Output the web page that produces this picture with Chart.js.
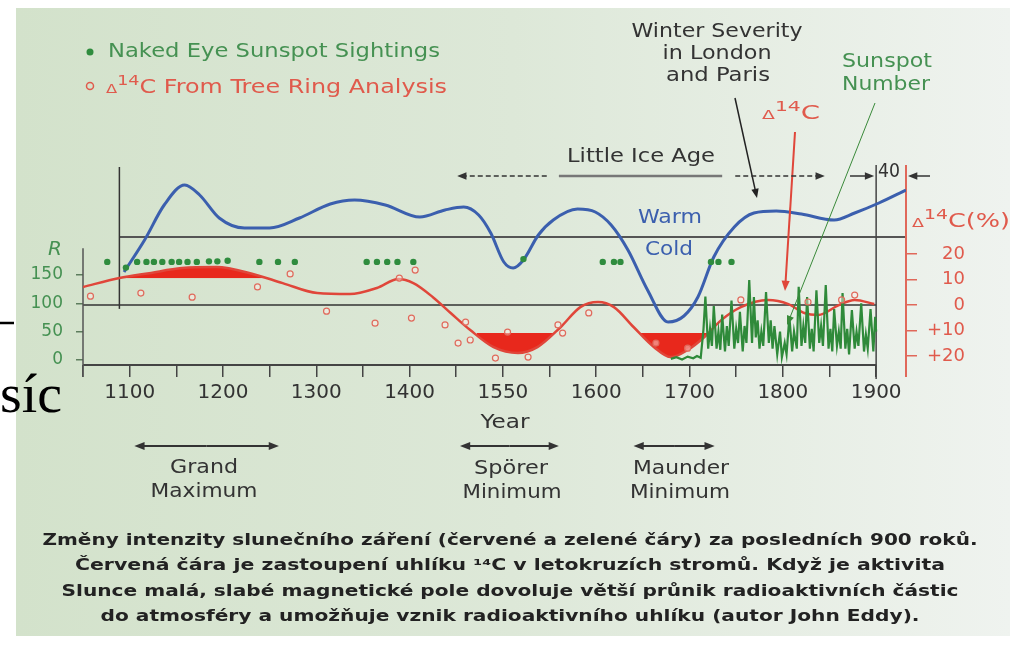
<!DOCTYPE html>
<html>
<head>
<meta charset="utf-8">
<script src="https://cdn.jsdelivr.net/npm/chart.js@4.4.0/dist/chart.umd.min.js"></script>
<style>
html, body { margin: 0; padding: 0; background: #fff; overflow: hidden; }
canvas { display: block; }
</style>
</head>
<body>
<canvas id="chart" width="1019" height="646"></canvas>
<script>
// --- data ---
// winter severity (arbitrary index, 0 = warm/cold divider)
const blueYears = [1094,1116,1137,1159,1175,1196,1223,1250,1282,1315,1341,1374,1411,1438,1458,1474,1487,1501,1511,1522,1538,1554,1580,1599,1616,1634,1655,1677,1694,1709,1726,1748,1769,1793,1820,1855,1877,1903,1932];
const blueVals  = [-3.5,-0.3,3.2,5.2,4.2,1.9,0.9,0.9,1.9,3.3,3.7,3.2,2,2.7,3,2.2,0.4,-2.5,-3.1,-2.3,0.2,1.7,2.8,2.5,1.2,-1.3,-5.3,-8.5,-7.9,-6,-2,1,2.4,2.6,2.3,1.7,2.4,3.4,4.7];

// smoothed delta 14C (per mil, positive plotted downward)
const c14Years = [1050,1089,1121,1156,1193,1232,1264,1301,1336,1365,1388,1404,1425,1444,1465,1490,1516,1537,1562,1583,1602,1619,1640,1662,1680,1698,1716,1734,1755,1784,1806,1823,1838,1860,1877,1898];
const c14Vals  = [-7.1,-10.6,-12.5,-14.5,-14.9,-12.2,-8.6,-4.7,-4.3,-6.7,-10.2,-8.6,-3.1,3.1,9.8,16.5,18.8,16.5,8.6,0.8,-1.2,0.8,8.6,16.5,20.4,17.6,12.5,5.9,0.8,-2,-0.4,3.1,3.9,0,-2,-0.4];

// tree ring measurements
const c14PtYears = [1058,1112,1167,1237,1272,1311,1363,1389,1402,1406,1438,1452,1460,1465,1492,1505,1527,1559,1564,1592,1664,1698,1755,1827,1863,1877];
const c14PtVals  = [-3.5,-4.7,-3.1,-7.1,-12.2,2.4,7.1,-10.6,5.1,-13.7,7.8,14.9,6.7,13.7,20.8,10.6,20.4,7.8,11,3.1,14.9,16.9,-2,-1.2,-2,-3.9];

// naked eye sunspot sightings (drawn as a row at R ~ 173)
const sightYears = [1076,1096,1108,1118,1126,1135,1145,1153,1162,1172,1185,1194,1205,1239,1259,1277,1354,1365,1376,1387,1404,1522,1607,1619,1626,1723,1731,1745];
const sightR     = [173,163,173,173,173,173,173,173,173,173,174,174,175,173,173,173,173,173,173,173,173,178,173,173,173,173,173,173];

// sunspot number R
const sunYears = [1680,1686,1692,1698,1704,1708,1712,1715,1717,1720,1722,1724,1726,1729,1731,1733,1735,1738,1740,1742,1745,1748,1750,1752,1754,1757,1759,1761,1764,1767,1769,1771,1773,1775,1777,1779,1782,1785,1787,1789,1791,1794,1797,1799,1802,1804,1807,1810,1812,1815,1817,1820,1822,1824,1826,1829,1831,1833,1836,1839,1841,1843,1846,1849,1851,1853,1855,1858,1860,1862,1864,1867,1869,1871,1874,1877,1879,1881,1884,1887,1889,1891,1894,1897,1899,1900];
const sunR     = [2,5,1,6,3,7,4,55,112,20,55,25,95,20,50,18,80,15,60,25,105,20,55,30,85,15,60,30,141,30,111,40,70,20,50,25,120,30,70,20,60,10,50,5,30,10,76,15,50,20,129,25,60,30,111,20,55,15,123,30,60,25,132,20,55,15,90,25,50,20,118,20,55,10,88,20,50,25,100,15,45,20,90,15,76,50];

const tickYears  = [1100,1200,1300,1400,1500,1600,1700,1800,1900];
const tickLabels = ['1100','1200','1300','1400','1550','1600','1700','1800','1900'];
const rTicks = [0,50,100,150];
const c14Ticks = [-20,-10,0,10,20];
const c14TickLabels = ['20','10','0','+10','+20'];

// shaded periods of the 14C curve
const grandMaxLevel = -10.5;
const grandMaxSpan = [[1086, 1249]];
const minimumLevel = 11;
const minimaSpans = [[1472, 1554], [1645, 1724]];

const captionLines = [
    'Změny intenzity slunečního záření (červené a zelené čáry) za posledních 900 roků.',
    'Červená čára je zastoupení uhlíku ¹⁴C v letokruzích stromů. Když je aktivita',
    'Slunce malá, slabé magnetické pole dovoluje větší průnik radioaktivních částic',
    'do atmosféry a umožňuje vznik radioaktivního uhlíku (autor John Eddy).'
];

const FONT = '"DejaVu Sans", Verdana, sans-serif';
const BLUE = '#3b5fae', RED = '#e0463a', REDTXT = '#e05a4c', GREEN = '#2f8a3a', GREENTXT = '#459152', DARK = '#333';
const FILLRED = '#e8281c', NONE = 'rgba(0,0,0,0)';
const GM_INDEX = 6, MIN_INDEX = 5;

const pts = (xs, ys) => xs.map((x, i) => ({ x: x, y: ys[i] }));

// --- drawing helpers ---
function txt(ctx, s, x, y, o) {
    ctx.save();
    ctx.font = (o.bold ? 'bold ' : '') + (o.italic ? 'italic ' : '') + o.size + 'px ' + (o.family || FONT);
    ctx.fillStyle = o.color || DARK;
    ctx.textBaseline = 'middle';
    ctx.textAlign = 'left';
    const w = ctx.measureText(s).width;
    const k = o.w ? o.w / w : 1;
    const x0 = o.align === 'center' ? x - w * k / 2 : (o.align === 'right' ? x - w * k : x);
    ctx.translate(x0, y);
    ctx.scale(k, 1);
    ctx.fillText(s, 0, 0);
    ctx.restore();
}

function rich(ctx, parts, x, y, size, color, w) {
    ctx.save();
    ctx.fillStyle = color;
    ctx.textBaseline = 'alphabetic';
    const fnt = p => Math.round(size * (p.k || 1)) + 'px ' + FONT;
    let tot = 0;
    parts.forEach(p => { ctx.font = fnt(p); tot += ctx.measureText(p.t).width; });
    const k = w ? w / tot : 1;
    ctx.translate(x, y + size * 0.36);
    ctx.scale(k, 1);
    let cx = 0;
    parts.forEach(p => {
        ctx.font = fnt(p);
        ctx.fillText(p.t, cx, p.dy ? -size * p.dy : 0);
        cx += ctx.measureText(p.t).width;
    });
    ctx.restore();
}
const delta14 = rest => [{ t: 'Δ', k: 0.68 }, { t: '14', k: 0.72, dy: 0.42 }, { t: rest }];

function arrow(ctx, x1, y1, x2, y2, color, lw, head, dash) {
    ctx.save();
    ctx.strokeStyle = color; ctx.fillStyle = color; ctx.lineWidth = lw;
    const a = Math.atan2(y2 - y1, x2 - x1);
    if (dash) ctx.setLineDash(dash);
    ctx.beginPath();
    ctx.moveTo(x1, y1);
    ctx.lineTo(x2 - Math.cos(a) * head * 0.7, y2 - Math.sin(a) * head * 0.7);
    ctx.stroke();
    ctx.setLineDash([]);
    if (head) {
        ctx.beginPath();
        ctx.moveTo(x2, y2);
        ctx.lineTo(x2 - head * Math.cos(a - 0.38), y2 - head * Math.sin(a - 0.38));
        ctx.lineTo(x2 - head * Math.cos(a + 0.38), y2 - head * Math.sin(a + 0.38));
        ctx.closePath();
        ctx.fill();
    }
    ctx.restore();
}

function line(ctx, x1, y1, x2, y2, color, lw, dash) {
    ctx.save();
    ctx.strokeStyle = color; ctx.lineWidth = lw;
    if (dash) ctx.setLineDash(dash);
    ctx.beginPath(); ctx.moveTo(x1, y1); ctx.lineTo(x2, y2); ctx.stroke();
    ctx.restore();
}

// clip the next dataset draw (fill) to some year spans
function clipTo(chart, spans) {
    const ctx = chart.ctx, a = chart.chartArea, x = chart.scales.x;
    ctx.save();
    ctx.beginPath();
    spans.forEach(s => {
        const x0 = x.getPixelForValue(s[0]), x1 = x.getPixelForValue(s[1]);
        ctx.rect(x0, a.top, x1 - x0, a.bottom - a.top);
    });
    ctx.clip();
}

// --- plugin: background, frame lines, annotations ---
const deco = {
    id: 'deco',
    beforeDraw(chart) {
        const ctx = chart.ctx;
        ctx.save();
        ctx.fillStyle = '#fff';
        ctx.fillRect(0, 0, chart.width, chart.height);
        const g = ctx.createLinearGradient(16, 0, 1010, 0);
        g.addColorStop(0, '#d3e2cb');
        g.addColorStop(0.5, '#dde8d8');
        g.addColorStop(1, '#eff3ef');
        ctx.fillStyle = g;
        ctx.fillRect(16, 8, 994, 628);
        ctx.restore();
    },
    beforeDatasetsDraw(chart) {
        const ctx = chart.ctx, s = chart.scales, a = chart.chartArea;
        const X = v => s.x.getPixelForValue(v);
        // warm / cold divider
        line(ctx, X(1089), s.yb.getPixelForValue(0), a.right, s.yb.getPixelForValue(0), '#555', 2);
        // R = 100 / delta14C = 0 line
        line(ctx, a.left, s.yc.getPixelForValue(0), X(1900), s.yc.getPixelForValue(0), '#333', 1.5);
        // left frame of the upper panel
        line(ctx, X(1089), s.yb.getPixelForValue(7), X(1089), s.yc.getPixelForValue(1.5), '#333', 1.5);
        // 1900 vertical
        line(ctx, X(1900), s.yb.getPixelForValue(7.2), X(1900), a.bottom + 14, '#444', 1.5);
        // x axis line
        line(ctx, X(1050), a.bottom, X(1900), a.bottom, '#444', 2);
        // R axis line
        line(ctx, a.left, s.yr.getPixelForValue(197), a.left, a.bottom + 12, '#555', 1.5);
        // delta14C axis line
        line(ctx, a.right, s.yb.getPixelForValue(7.2), a.right, a.bottom + 12, '#e0685a', 2);
        // first dataset drawn is the grand maximum fill
        clipTo(chart, grandMaxSpan);
    },
    afterDatasetDraw(chart, args) {
        if (args.index === GM_INDEX) {
            chart.ctx.restore();
            clipTo(chart, minimaSpans);
        } else if (args.index === MIN_INDEX) {
            chart.ctx.restore();
        }
    },
    afterDraw(chart) {
        const ctx = chart.ctx, s = chart.scales, a = chart.chartArea;
        const X = v => s.x.getPixelForValue(v);

        // legend
        ctx.save();
        ctx.fillStyle = '#2f8c3e';
        ctx.beginPath(); ctx.arc(90, 52, 3.5, 0, Math.PI * 2); ctx.fill();
        ctx.strokeStyle = REDTXT; ctx.lineWidth = 1.5;
        ctx.beginPath(); ctx.arc(90, 86, 3.5, 0, Math.PI * 2); ctx.stroke();
        ctx.restore();
        txt(ctx, 'Naked Eye Sunspot Sightings', 108, 52, { size: 19, color: GREENTXT, w: 332 });
        rich(ctx, delta14('C From Tree Ring Analysis'), 106, 86, 19, REDTXT, 341);

        // top right notes
        txt(ctx, 'Winter Severity', 717, 32, { size: 19, align: 'center', w: 171 });
        txt(ctx, 'in London', 717, 54, { size: 19, align: 'center', w: 109 });
        txt(ctx, 'and Paris', 718, 76, { size: 19, align: 'center', w: 104 });
        txt(ctx, 'Sunspot', 842, 62, { size: 19, color: GREENTXT, w: 90 });
        txt(ctx, 'Number', 842, 85, { size: 19, color: GREENTXT, w: 88 });
        rich(ctx, delta14('C'), 762, 112, 19, REDTXT, 58);

        arrow(ctx, 735, 98, 757, 198, '#222', 1.5, 10);
        arrow(ctx, 795, 132, 785, 291, RED, 2, 11);
        arrow(ctx, 875, 103, 787, 325, '#3a8a3a', 1, 10);

        // Little Ice Age
        txt(ctx, 'Little Ice Age', 641, 157, { size: 19, align: 'center', w: 148 });
        const yl = 176;
        arrow(ctx, X(1547), yl, X(1451), yl, '#333', 1.5, 10, [5, 3]);
        line(ctx, X(1560), yl, X(1735), yl, '#777', 2.5);
        arrow(ctx, X(1749), yl, X(1845), yl, '#333', 1.5, 10, [5, 3]);
        arrow(ctx, X(1872), yl, X(1900) - 2, yl, '#333', 1.5, 10);
        txt(ctx, '40', 889, 172, { size: 19, align: 'center', w: 22 });
        arrow(ctx, a.right + 24, yl, a.right + 2, yl, '#333', 1.5, 10);

        // warm / cold
        txt(ctx, 'Warm', 670, 218, { size: 20, color: BLUE, align: 'center', w: 64 });
        txt(ctx, 'Cold', 669, 250, { size: 20, color: BLUE, align: 'center', w: 48 });

        // axis titles
        txt(ctx, 'R', 55, 250, { size: 20, italic: true, color: GREENTXT, align: 'center' });
        rich(ctx, delta14('C(%)'), 912, 220, 19, REDTXT, 98);
        txt(ctx, 'Year', 505, 423, { size: 20, align: 'center', w: 49 });

        // named periods
        const ya = 446;
        [[1105, 1260], [1454, 1560], [1640, 1727]].forEach(r => {
            const mid = (X(r[0]) + X(r[1])) / 2;
            arrow(ctx, mid, ya, X(r[0]), ya, '#333', 2, 11);
            arrow(ctx, mid, ya, X(r[1]), ya, '#333', 2, 11);
        });
        txt(ctx, 'Grand', 204, 468, { size: 19, align: 'center', w: 68 });
        txt(ctx, 'Maximum', 204, 492, { size: 19, align: 'center', w: 107 });
        txt(ctx, 'Spörer', 511, 469, { size: 19, align: 'center', w: 74 });
        txt(ctx, 'Minimum', 512, 493, { size: 19, align: 'center', w: 99 });
        txt(ctx, 'Maunder', 681, 469, { size: 19, align: 'center', w: 96 });
        txt(ctx, 'Minimum', 680, 493, { size: 19, align: 'center', w: 100 });

        // caption
        const capW = [935, 870, 897, 819];
        const capY = [541, 566, 592, 617];
        captionLines.forEach((c, i) => txt(ctx, c, 510, capY[i], { size: 15, bold: true, color: '#222', align: 'center', w: capW[i] }));

        // leftover slide fragments at the left edge
        line(ctx, 0, 323, 14, 323, '#000', 2.5);
        txt(ctx, 'síc', 0, 398, { size: 54, family: '"Liberation Serif", "DejaVu Serif", serif', color: '#000', w: 62 });
    }
};

new Chart(document.getElementById('chart'), {
    type: 'line',
    data: {
        datasets: [
            {
                label: 'Naked eye sunspot sightings',
                data: pts(sightYears, sightR),
                yAxisID: 'yr', showLine: false,
                pointRadius: 3.2, pointBackgroundColor: '#2f8c3e', pointBorderWidth: 0,
                order: 0
            },
            {
                label: 'Delta 14C tree rings',
                data: pts(c14PtYears, c14PtVals),
                yAxisID: 'yc', showLine: false,
                pointRadius: 3, pointBorderColor: '#e06a5c', pointBackgroundColor: 'rgba(255,240,235,0.45)', pointBorderWidth: 1.2,
                order: 1
            },
            {
                label: 'Winter severity',
                data: pts(blueYears, blueVals),
                yAxisID: 'yb',
                borderColor: BLUE, borderWidth: 3, pointRadius: 0,
                cubicInterpolationMode: 'monotone', fill: false,
                order: 2
            },
            {
                label: 'Sunspot number',
                data: pts(sunYears, sunR),
                yAxisID: 'yr',
                borderColor: GREEN, borderWidth: 2.2, pointRadius: 0, tension: 0, fill: false,
                order: 3
            },
            {
                label: 'Delta 14C',
                data: pts(c14Years, c14Vals),
                yAxisID: 'yc',
                borderColor: RED, borderWidth: 2.5, pointRadius: 0,
                cubicInterpolationMode: 'monotone', fill: false,
                order: 4
            },
            {
                label: 'Delta 14C minima',
                data: pts(c14Years, c14Vals),
                yAxisID: 'yc',
                borderColor: NONE, borderWidth: 0, pointRadius: 0,
                cubicInterpolationMode: 'monotone',
                fill: { value: minimumLevel, above: NONE, below: FILLRED },
                order: 5
            },
            {
                label: 'Delta 14C grand maximum',
                data: pts(c14Years, c14Vals),
                yAxisID: 'yc',
                borderColor: NONE, borderWidth: 0, pointRadius: 0,
                cubicInterpolationMode: 'monotone',
                fill: { value: grandMaxLevel, above: FILLRED, below: NONE },
                order: 6
            }
        ]
    },
    options: {
        responsive: false,
        animation: false,
        events: [],
        layout: { padding: { top: 150, right: 54, left: 0, bottom: 0 } },
        plugins: { legend: { display: false }, tooltip: { enabled: false } },
        scales: {
            x: {
                type: 'linear', position: 'bottom', min: 1050, max: 1932,
                afterBuildTicks: ax => {
                    const t = [];
                    for (let v = 1050; v <= 1900; v += 50) t.push({ value: v });
                    ax.ticks = t;
                },
                afterFit: ax => { ax.height = 646 - 365; },
                ticks: {
                    autoSkip: false, maxRotation: 0, minRotation: 0, padding: 4, color: DARK,
                    font: { family: FONT, size: 20 },
                    callback: v => { const i = tickYears.indexOf(v); return i >= 0 ? tickLabels[i] : ''; }
                },
                grid: { drawOnChartArea: false, drawTicks: true, tickLength: 12, color: '#444', lineWidth: 1.5 },
                border: { display: false }
            },
            yr: {
                type: 'linear', position: 'left', min: -8.8, max: 370.4,
                afterBuildTicks: ax => { ax.ticks = rTicks.map(v => ({ value: v })); },
                afterFit: ax => { ax.width = 83; },
                ticks: { color: GREENTXT, padding: 13, font: { family: FONT, size: 17 } },
                grid: { drawOnChartArea: false, tickLength: 7, color: '#5d7d5d', lineWidth: 1.5 },
                border: { display: false }
            },
            yc: {
                type: 'linear', position: 'right', reverse: true, min: -60.8, max: 23.5,
                afterBuildTicks: ax => { ax.ticks = c14Ticks.map(v => ({ value: v })); },
                afterFit: ax => { ax.width = 59; },
                ticks: {
                    color: REDTXT, crossAlign: 'far', padding: 4, font: { family: FONT, size: 18 },
                    callback: v => { const i = c14Ticks.indexOf(v); return i >= 0 ? c14TickLabels[i] : ''; }
                },
                grid: { drawOnChartArea: false, tickLength: 11, color: '#e0685a', lineWidth: 1.5 },
                border: { display: false }
            },
            yb: { type: 'linear', display: false, min: -12.8, max: 8.7 }
        }
    },
    plugins: [deco]
});
</script>
</body>
</html>
